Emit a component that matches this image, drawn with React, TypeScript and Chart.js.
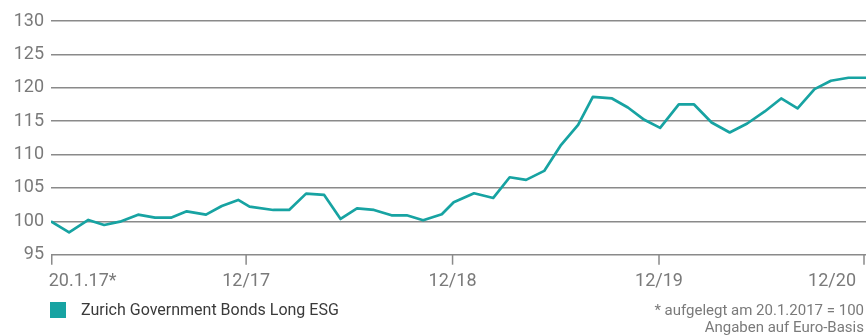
import React, { useEffect, useRef } from "react";
import { Chart, registerables } from "chart.js";

Chart.register(...registerables);

// ---------- data ----------
const START_DATE = "2017-01-20";

const dates = [
  "2017-01-20", "2017-02-21", "2017-03-27", "2017-04-24", "2017-05-22", "2017-06-23",
  "2017-07-23", "2017-08-20", "2017-09-17", "2017-10-21", "2017-11-18", "2017-12-17",
  "2018-01-06", "2018-02-17", "2018-03-17", "2018-04-16", "2018-05-18", "2018-06-16",
  "2018-07-15", "2018-08-14", "2018-09-14", "2018-10-11", "2018-11-09", "2018-12-12",
  "2019-01-02", "2019-02-07", "2019-03-13", "2019-04-11", "2019-05-10", "2019-06-11",
  "2019-07-11", "2019-08-10", "2019-09-05", "2019-10-09", "2019-11-06", "2019-12-05",
  "2020-01-02", "2020-02-04", "2020-03-02", "2020-04-02", "2020-05-04", "2020-06-04",
  "2020-07-05", "2020-08-03", "2020-09-01", "2020-10-01", "2020-10-30", "2020-11-30",
  "2020-12-31",
];

const values = [
  100, 98.35, 100.2, 99.45, 99.95, 101.0, 100.55, 100.55, 101.5, 101.0,
  102.3, 103.2, 102.2, 101.7, 101.7, 104.15, 103.95, 100.35, 101.95, 101.7,
  100.9, 100.9, 100.15, 101.05, 102.85, 104.2, 103.5, 106.6, 106.2, 107.55,
  111.45, 114.45, 118.65, 118.4, 117.05, 115.2, 114.0, 117.5, 117.5, 114.8,
  113.3, 114.65, 116.45, 118.4, 116.9, 119.8, 121.05, 121.5, 121.5,
];

const tickDates = ["2017-01-20", "2017-12-31", "2018-12-31", "2019-12-31", "2020-12-31"];
const tickLabels = ["20.1.17*", "12/17", "12/18", "12/19", "12/20"];

const Y_MIN = 95;
const Y_MAX = 130;
const Y_STEP = 5;

const seriesName = "Zurich Government Bonds Long ESG";
const footnotes = ["* aufgelegt am 20.1.2017 = 100", "Angaben auf Euro-Basis"];

// ---------- style ----------
const TEAL = "#17a3a2";
const GRID = "#8a8a8a";
const LABEL = "#7a7a7a";
const FONT = "Roboto";

const dayOf = (iso: string) => (Date.parse(iso) - Date.parse(START_DATE)) / 86400000;

const xAxisPlugin = {
  id: "xAxisDecor",
  afterDraw(chart: any) {
    const { ctx, chartArea, scales } = chart;
    const xs = scales.x;
    ctx.save();
    ctx.strokeStyle = GRID;
    ctx.lineWidth = 1.5;
    ctx.fillStyle = LABEL;
    ctx.font = `18px ${FONT}`;
    ctx.textBaseline = "alphabetic";
    tickDates.forEach((d, i) => {
      let px = xs.getPixelForValue(dayOf(d));
      px = Math.min(Math.max(px, chartArea.left + 0.75), chart.width - 2);
      ctx.beginPath();
      ctx.moveTo(px, chartArea.bottom);
      ctx.lineTo(px, chartArea.bottom + 10);
      ctx.stroke();
      const last = i === tickDates.length - 1;
      ctx.textAlign = i === 0 ? "left" : last ? "right" : "center";
      const tx = i === 0 ? px - 3 : last ? px - 8 : px;
      ctx.fillText(tickLabels[i], tx, chartArea.bottom + 31.5);
    });
    ctx.restore();
  },
};

export default function App() {
  const canvasRef = useRef<HTMLCanvasElement | null>(null);

  useEffect(() => {
    document.body.style.margin = "0";
    const canvas = canvasRef.current;
    if (!canvas) return;
    const chart = new Chart(canvas, {
      type: "line",
      data: {
        datasets: [
          {
            label: seriesName,
            data: dates.map((d, i) => ({ x: dayOf(d), y: values[i] })),
            borderColor: TEAL,
            backgroundColor: TEAL,
            borderWidth: 2.7,
            pointRadius: 0,
            tension: 0,
            borderJoinStyle: "round",
          },
        ],
      },
      options: {
        animation: false,
        responsive: false,
        devicePixelRatio: 1,
        layout: { padding: { top: 21, right: 0, left: 0, bottom: 0 } },
        plugins: {
          legend: { display: false },
          tooltip: { enabled: false },
        },
        scales: {
          x: {
            type: "linear",
            min: dayOf(dates[0]),
            max: dayOf(dates[dates.length - 1]),
            ticks: { display: false },
            grid: { display: false },
            border: { display: false },
            afterFit: (s: any) => {
              s.height = 81.3;
            },
          },
          y: {
            min: Y_MIN,
            max: Y_MAX,
            ticks: {
              stepSize: Y_STEP,
              color: LABEL,
              font: { family: FONT, size: 18 },
              padding: 7,
            },
            grid: { color: GRID, lineWidth: 1.6, drawTicks: false },
            border: { display: false },
            afterFit: (s: any) => {
              s.width = 51;
            },
          },
        },
      },
      plugins: [xAxisPlugin],
    });
    return () => chart.destroy();
  }, []);

  return (
    <div style={{ position: "relative", width: 866, height: 336, fontFamily: FONT }}>
      <canvas ref={canvasRef} width={866} height={336} style={{ display: "block" }} />
      <div
        style={{
          position: "absolute",
          left: 50,
          top: 302,
          display: "flex",
          alignItems: "center",
          height: 16,
        }}
      >
        <span style={{ width: 16, height: 16, background: TEAL, display: "inline-block" }} />
        <span style={{ marginLeft: 15, fontSize: 16, color: "#3a3a3a", lineHeight: "16px" }}>
          {seriesName}
        </span>
      </div>
      <div
        style={{
          position: "absolute",
          right: 2,
          top: 302,
          textAlign: "right",
          fontSize: 15,
          lineHeight: "17px",
          color: LABEL,
        }}
      >
        {footnotes.map((t) => (
          <div key={t}>{t}</div>
        ))}
      </div>
    </div>
  );
}
